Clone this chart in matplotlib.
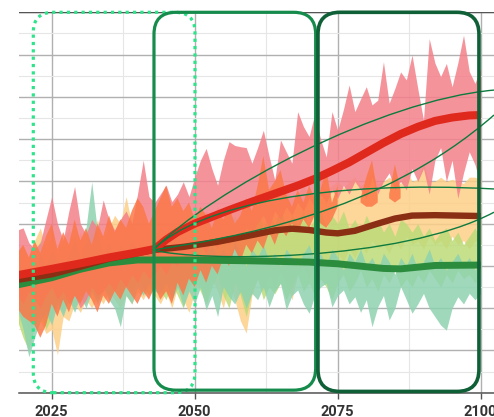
import numpy as np
import matplotlib
matplotlib.use("Agg")
import matplotlib.pyplot as plt
from matplotlib.patches import FancyBboxPatch, PathPatch
from matplotlib.path import Path

nan = np.nan
years = list(range(2019, 2101))

pink_hi = [3.85, 3.90, 3.55, 3.40, 3.55, 4.10, 4.64, 4.00, 3.61, 4.30,
           4.88, 4.00, 3.75, 4.10, 3.90, 4.56, 4.10, 3.85, 4.10, 4.30,
           4.00, 4.70, 5.50, 4.64, 4.50, 4.70, 4.91, 4.52, 4.70, 4.99,
           4.64, 5.10, 5.50, 5.78, 5.30, 4.91, 5.50, 5.94, 5.85, 5.82,
           5.80, 5.43, 5.80, 6.21, 5.60, 5.03, 5.98, 5.70, 5.43, 6.65,
           6.30, 6.06, 6.60, 6.00, 5.58, 6.65, 6.21, 6.70, 7.28, 6.65,
           6.95, 7.24, 6.81, 6.92, 7.83, 6.85, 7.20, 7.59, 7.40, 7.99,
           7.20, 6.45, 8.38, 7.80, 7.48, 7.79, 7.24, 7.80, 8.46, 7.60,
           7.32, 7.67]
pink_lo = [2.3, 2.1, 2.4, 2.2, 2.0, 2.3, 2.5, 2.2, 2.4, 2.1,
           2.3, 2.0, 2.2, 2.5, 2.3, 2.4, 2.6, 2.4, 2.7, 2.5,
           2.8, 2.6, 2.9, 2.7, 2.8, 3.0, 2.8, 3.1, 3.0, 3.2,
           3.1, 3.3, 3.5, 3.3, 3.6, 3.4, 3.7, 3.5, 3.8, 3.7,
           3.9, 3.8, 4.0, 4.2, 3.9, 4.3, 4.1, 4.4, 4.2, 4.5,
           4.3, 4.6, 4.4, 4.7, 4.5, 4.8, 4.6, 4.9, 4.7, 5.0,
           4.8, 4.6, 5.1, 4.7, 5.0, 5.2, 4.8, 5.0, 4.8, 5.3,
           5.0, 5.3, 4.7, 5.5, 5.8, 5.0, 5.5, 4.6, 5.2, 5.7,
           5.4, 4.9]
orange_hi = [3.3, 3.5, 3.2, 3.6, 3.3, 3.7, 4.0, 3.4, 3.8, 3.5,
             4.1, 3.6, 3.9, 3.5, 4.0, 3.7, 4.2, 3.8, 4.1, 3.9,
             4.3, 4.6, 4.4, 4.0, 4.3, 4.6, 4.9, 4.4, 4.6, 4.3,
             4.5, 4.1, 4.4, 4.2, 3.9, 4.3, 4.1, 4.4, 4.0, 4.2,
             4.6, 4.3, 4.9, 5.6, 4.8, 5.0, 5.27, 4.7, 4.4, 4.8,
             4.5, 4.9, 4.6, 4.8, 5.3, 4.5, 4.9, nan, nan, nan,
             4.6, 5.1, 5.5, 4.7, nan, 4.7, 5.4, 4.8, nan, nan,
             nan, nan, nan, nan, nan, nan, nan, nan, nan, nan,
             nan, nan]
orange_lo = [2.0, 1.8, 1.7, 1.6, 1.3, 1.6, 2.1, 1.8, 2.2, 1.9,
             2.3, 2.1, 2.4, 2.2, 1.9, 2.3, 2.1, 2.4, 2.2, 2.5,
             2.3, 2.1, 2.4, 2.2, 2.5, 2.2, 2.4, 2.1, 2.6, 2.3,
             2.7, 2.5, 2.9, 2.6, 3.0, 2.8, 3.2, 3.0, 3.4, 3.1,
             3.5, 3.3, 3.6, 3.4, 3.8, 3.5, 3.9, 3.7, 4.0, 3.8,
             4.1, 3.9, 4.2, 4.0, 3.9, 4.1, 4.4, nan, nan, nan,
             4.5, 4.4, 4.4, 4.5, nan, 4.6, 4.5, 4.6, nan, nan,
             nan, nan, nan, nan, nan, nan, nan, nan, nan, nan,
             nan, nan]
yellow_hi = [3.3, 3.5, 3.2, 3.6, 3.9, 3.4, 3.7, 3.3, 3.6, 3.9,
             3.5, 3.8, 3.4, 3.7, 4.1, 3.6, 3.9, 4.2, 4.0, 4.64,
             4.0, 3.8, 4.1, 3.9, 3.7, 3.9, 3.8, 4.0, 4.1, 3.9,
             4.2, 4.0, 4.1, 4.3, 4.1, 4.4, 4.2, 4.3, 4.5, 4.3,
             4.4, 4.6, 4.4, 4.5, 4.7, 4.5, 4.6, 4.8, 4.6, 4.7,
             4.9, 4.7, 4.8, 5.0, 4.8, 4.9, 5.0, 4.85, 5.0, 5.1,
             4.9, 5.0, 5.2, 4.95, 5.0, 5.1, 5.0, 4.95, 5.3, 5.0,
             5.05, 5.43, 5.0, 5.0, 5.1, 5.0, 5.05, 5.0, 4.95, 5.1,
             5.1, 5.05]
yellow_lo = [1.6, 1.8, 1.5, 1.9, 1.7, 1.4, 1.5, 0.9, 1.8, 1.7,
             2.1, 1.9, 2.2, 2.0, 2.3, 2.1, 2.4, 2.2, 2.0, 2.3,
             2.1, 2.4, 2.2, 2.5, 2.3, 2.1, 2.4, 2.0, 2.5, 2.2,
             1.9, 2.4, 2.6, 2.3, 2.7, 2.4, 2.0, 2.6, 2.2, 1.7,
             1.41, 2.3, 2.7, 2.4, 2.8, 2.5, 2.9, 2.6, 2.2, 2.8,
             3.0, 2.7, 3.1, 2.9, 3.2, 3.0, 3.3, 3.1, 3.4, 3.2,
             3.5, 3.3, 3.6, 3.4, 3.5, 3.3, 3.6, 3.4, 3.7, 3.5,
             3.6, 3.4, 3.7, 3.5, 3.6, 3.4, 3.7, 3.5, 3.6, 3.4,
             3.6, 3.5]
lgreen_hi = [3.2, 3.4, 3.0, 3.3, 3.6, 3.1, 3.4, 3.2, 3.5, 3.3,
             3.6, 3.2, 3.5, 3.8, 3.4, 3.6, 3.3, 3.7, 3.5, 3.8,
             3.6, 3.4, 3.7, 3.5, 3.6, 3.8, 3.5, 3.9, 3.6, 4.0,
             3.7, 3.9, 3.6, 4.0, 3.8, 4.1, 3.7, 4.0, 4.2, 3.8,
             4.1, 3.9, 4.3, 3.9, 4.2, 4.0, 4.4, 3.9, 4.2, 4.0,
             4.3, 3.9, 4.1, 4.3, 3.9, 4.2, 4.0, 4.3, 3.9, 4.1,
             3.8, 4.2, 3.9, 4.1, 3.8, 4.0, 3.7, 4.1, 4.0, 3.8,
             4.0, 3.7, 3.9, 3.6, 3.8, 3.9, 3.6, 3.8, 3.5, 3.7,
             3.9, 3.6]
lgreen_lo = [1.7, 1.3, 1.0, 1.6, 1.9, 1.5, 1.8, 2.2, 1.9, 2.3,
             2.0, 2.4, 2.1, 2.5, 2.2, 2.6, 2.3, 2.5, 2.2, 2.6,
             2.4, 2.7, 2.5, 2.3, 2.6, 2.4, 2.2, 2.6, 2.3, 2.0,
             2.5, 2.7, 2.4, 2.1, 2.5, 2.8, 2.3, 2.0, 2.6, 2.3,
             1.8, 2.4, 2.7, 2.2, 2.5, 2.34, 2.6, 2.2, 2.5, 2.8,
             2.4, 2.6, 2.3, 2.7, 2.5, 2.2, 2.6, 2.8, 2.4, 2.6,
             2.9, 2.5, 2.7, 2.4, 2.8, 2.6, 2.9, 2.5, 2.7, 2.5,
             2.8, 2.6, 2.9, 2.7, 2.5, 2.8, 2.6, 2.9, 2.7, 2.8,
             2.6, 2.8]
teal_hi = [3.0, 2.7, 2.4, 2.9, 3.3, 3.0, 3.4, 3.1, 2.9, 3.3,
           3.7, 3.2, 3.9, 4.99, 3.8, 3.3, 3.6, 3.2, 3.5, 3.3,
           3.6, 3.4, 3.2, 3.5, 3.3, 3.6, 3.2, 3.4, 3.1, 3.5,
           3.2, 3.4, 3.1, 3.3, 3.5, 3.2, 3.4, 3.1, 3.6, 3.3,
           3.0, 3.4, 3.2, 3.5, 3.1, 3.3, 3.0, 3.4, 3.2, 3.0,
           3.3, 3.5, 3.1, 3.3, 3.0, 3.4, 3.2, 2.9, 3.3, 3.1,
           3.4, 3.0, 3.2, 2.9, 3.3, 3.1, 2.8, 3.2, 3.0, 3.3,
           2.9, 3.1, 3.4, 3.0, 3.2, 2.9, 3.1, 3.3, 3.0, 3.2,
           2.9, 3.1]
teal_lo = [2.0, 1.5, 0.85, 1.3, 1.7, 1.9, 1.6, 2.1, 1.8, 2.2,
           1.9, 2.3, 2.0, 2.4, 2.1, 2.5, 2.2, 2.0, 1.56, 2.3,
           2.1, 2.5, 2.3, 2.6, 2.4, 2.35, 2.6, 2.2, 2.5, 2.03,
           2.4, 2.1, 2.5, 1.96, 2.3, 1.8, 2.51, 2.27, 2.1, 2.4,
           2.0, 2.35, 2.2, 2.5, 2.03, 2.4, 2.59, 1.96, 2.3, 2.43,
           2.1, 1.88, 2.3, 2.5, 2.59, 2.03, 2.3, 2.43, 2.1, 2.27,
           1.9, 2.2, 1.56, 2.03, 2.3, 1.72, 2.0, 2.51, 2.2, 1.88,
           2.1, 2.35, 2.0, 1.8, 1.6, 1.48, 2.0, 2.27, 2.1, 2.35,
           2.2, 2.35]

red_years = [2019, 2025, 2030, 2035, 2040, 2043, 2045, 2047, 2050, 2053,
             2056, 2060, 2064, 2068, 2071, 2074, 2077, 2080, 2083, 2086,
             2089, 2092, 2095, 2098, 2100]
red_vals = [2.78, 2.93, 3.06, 3.20, 3.32, 3.40, 3.62, 3.80, 4.00, 4.16,
            4.32, 4.52, 4.71, 4.90, 5.06, 5.25, 5.45, 5.68, 5.91, 6.12,
            6.29, 6.43, 6.51, 6.56, 6.57]
brown_years = [2019, 2025, 2030, 2035, 2040, 2043, 2048, 2054, 2060, 2064,
               2067, 2070, 2073, 2075, 2078, 2082, 2085, 2088, 2092, 2100]
brown_vals = [2.67, 2.80, 2.98, 3.17, 3.30, 3.38, 3.45, 3.57, 3.73, 3.84,
              3.88, 3.85, 3.79, 3.77, 3.83, 4.00, 4.12, 4.19, 4.20, 4.18]
green_years = [2019, 2025, 2030, 2035, 2040, 2050, 2060, 2070, 2075, 2080,
               2083, 2086, 2089, 2092, 2100]
green_vals = [2.55, 2.72, 2.92, 3.07, 3.14, 3.14, 3.12, 3.09, 3.05, 2.98,
              2.94, 2.93, 2.97, 3.01, 3.02]

tick_years = [2025, 2050, 2075, 2100]
tick_labels = ["2025", "2050", "2075", "2100"]

# ---------------------------------------------------------------
W, H, DPI = 494, 417, 100
fig = plt.figure(figsize=(W / DPI, H / DPI), dpi=DPI)
fig.patch.set_facecolor("white")
ax = fig.add_axes([19 / W, (H - 392.7) / H, (W - 19) / W, (392.7 - 12.3) / H])
ax.set_xlim(2019.28, 2102.33)
ax.set_ylim(0, 9)

# grid
ax.set_axisbelow(True)
ax.set_yticks(range(0, 10))
ax.set_yticks(np.arange(0.5, 9, 1.0), minor=True)
ax.set_xticks(tick_years)
ax.set_xticks([2037.5, 2062.5, 2087.5], minor=True)
ax.grid(which="major", axis="both", color="#b0b0b0", lw=1.0)
ax.grid(which="minor", axis="both", color="#e6e6e6", lw=0.8)
ax.tick_params(axis="y", which="both", length=0, labelleft=False)
ax.tick_params(axis="x", which="minor", length=0)
ax.tick_params(axis="x", which="major", length=4, width=1.0, color="#555555",
               pad=4.5, labelsize=10.5, labelcolor="#333333")
ax.set_xticklabels(tick_labels, fontfamily=["Roboto", "DejaVu Sans"],
                   fontweight="bold")
for s in ["left", "right", "top"]:
    ax.spines[s].set_visible(False)
ax.spines["bottom"].set_color("#555555")
ax.spines["bottom"].set_linewidth(1.1)
ax.axhline(9, color="#555555", lw=1.0, zorder=1)

yrs = np.array(years, dtype=float)
bands = [
    (yellow_lo, yellow_hi, "#fdcf88", 0.85),
    (lgreen_lo, lgreen_hi, "#bcdb78", 0.85),
    (teal_lo, teal_hi, "#8ed2b0", 0.85),
    (pink_lo, pink_hi, "#f4808a", 0.85),
    (orange_lo, orange_hi, "#fb7848", 0.85),
]
for lo, hi, col, a in bands:
    ax.fill_between(yrs, np.array(lo, float), np.array(hi, float),
                    color=col, alpha=a, lw=0, zorder=2)

ax.plot(green_years, green_vals, color="#2c8c3e", lw=5.0, zorder=4,
        solid_capstyle="butt", solid_joinstyle="round")
ax.plot(brown_years, brown_vals, color="#8a2e14", lw=4.6, zorder=4,
        solid_capstyle="butt", solid_joinstyle="round")
ax.plot(red_years, red_vals, color="#e0291d", lw=5.8, zorder=5,
        solid_capstyle="butt", solid_joinstyle="round")

# thin fan curves (annotation), cubic Bezier control points in data units
fan_curves = [
    [(2042.71, 3.376), (2053.15, 4.80), (2082.40, 6.92), (2102.33, 7.16)],
    [(2042.71, 3.376), (2056.20, 3.66), (2082.40, 4.20), (2102.33, 6.57)],
    [(2042.71, 3.376), (2050.94, 4.47), (2073.65, 5.03), (2102.33, 4.82)],
    [(2042.71, 3.376), (2050.94, 3.09), (2085.89, 3.09), (2102.33, 4.27)],
]
for c in fan_curves:
    path = Path(c, [Path.MOVETO, Path.CURVE4, Path.CURVE4, Path.CURVE4])
    ax.add_patch(PathPatch(path, fill=False, edgecolor="#0d7a3e",
                           lw=1.0, zorder=6))


def rrect(x0, x1, y0, y1, r_px, **kw):
    (a0, b0) = ax.transData.transform((x0, y0))
    (a1, b1) = ax.transData.transform((x1, y1))
    d = fig.dpi
    p = FancyBboxPatch((a0 / d, b0 / d), (a1 - a0) / d, (b1 - b0) / d,
                       boxstyle="round,pad=0,rounding_size=%f" % (r_px / d),
                       transform=fig.dpi_scale_trans, fill=False,
                       clip_on=False, zorder=7, **kw)
    ax.add_patch(p)


rrect(2021.78, 2050.05, 0.0, 9.0, 20, edgecolor="#2ee38a", lw=2.3,
      linestyle=(0, (1, 1.3)))
rrect(2042.88, 2071.15, 0.06, 9.0, 22, edgecolor="#168c4c", lw=2.3)
rrect(2071.55, 2099.7, 0.03, 9.0, 22, edgecolor="#0f5f37", lw=2.6)

fig.savefig("out.png", dpi=DPI)
